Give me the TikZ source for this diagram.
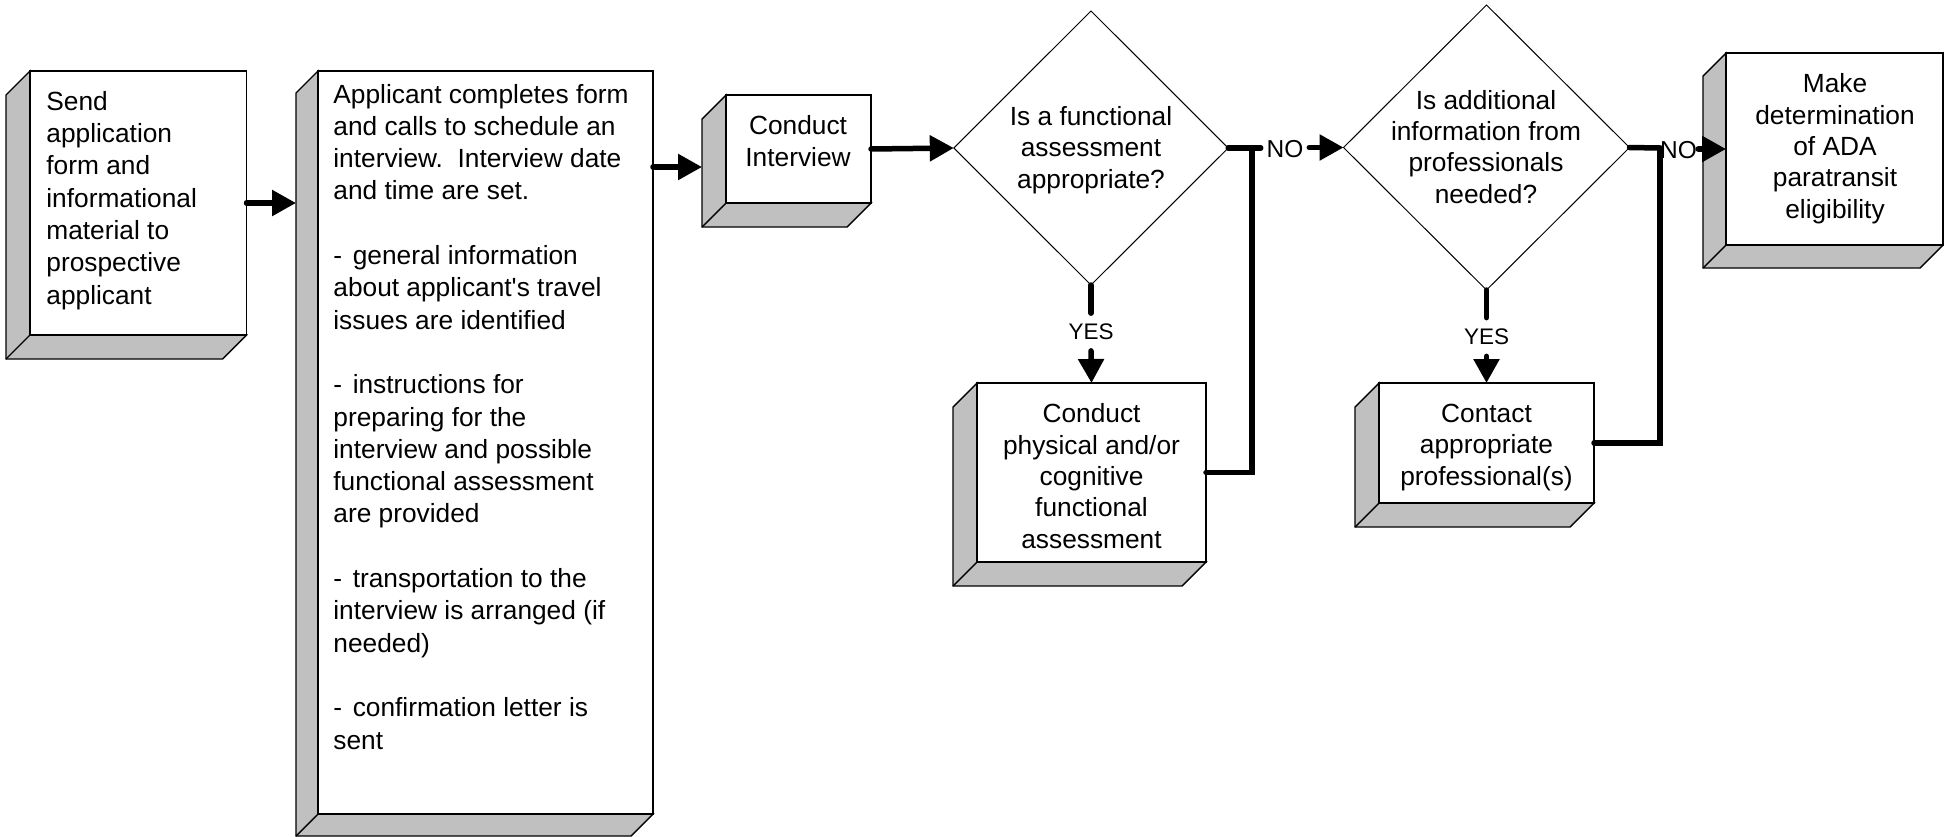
\documentclass[tikz,border=0pt]{standalone}
\usepackage{fontspec}
\setmainfont{Liberation Sans}
\usetikzlibrary{arrows.meta,shapes.geometric,fit}
\definecolor{sidegray}{HTML}{C0C0C0}
\newcommand\bevelbox[6]{%
  \filldraw[side] (#2,#3) -- ({#2-#6},{#3+#6}) -- ({#2-#6},{#5+#6}) -- ({#4-#6},{#5+#6}) -- (#4,#5) -- (#2,#5) -- cycle;
  \draw[side] (#2,#5) -- ({#2-#6},{#5+#6});
  \coordinate (#1-nw) at (#2,#3);
  \coordinate (#1-se) at (#4,#5);
  \node[face, fit=(#1-nw)(#1-se)] (#1) {};
  \coordinate (#1-L) at ({#2-#6},{(#3+#5)/2});
}
\newcommand\dashgap{-\hspace{5.3pt}}
\begin{document}
\frenchspacing
\begin{tikzpicture}[x=0.5pt,y=-0.5pt,
  side/.style={fill=sidegray, draw=black, line width=0.7pt, line join=miter},
  face/.style={draw=black, line width=0.7pt, fill=white, inner sep=0pt, outer sep=0pt},
  dia/.style={diamond, draw=black, line width=0.5pt, inner sep=0pt, outer sep=0pt},
  conn/.style={line width=2.75pt, line cap=round},
  arr/.style={conn, -{Triangle[length=12pt,width=12.5pt]}},
  txtL/.style={font=\fontsize{13.15pt}{16.15pt}\selectfont, align=left, inner sep=0pt},
  txtC/.style={font=\fontsize{13.15pt}{15.65pt}\selectfont, align=center, inner sep=0pt},
  notxt/.style={font=\fontsize{12.25pt}{14pt}\selectfont, inner ysep=0pt},
  yestxt/.style={font=\fontsize{11.25pt}{13pt}\selectfont, inner xsep=0pt}]
\useasboundingbox (0,0) rectangle (1944,836);

% boxes
\bevelbox{b1}{30}{71}{246.5}{335}{24}
\bevelbox{b2}{318}{71}{653}{814}{22}
\bevelbox{b3}{726}{95}{871}{203}{24}
\bevelbox{b4}{1726}{53}{1943}{245}{23}
\bevelbox{b5}{977}{383}{1206}{562}{24}
\bevelbox{b6}{1379}{383}{1594}{503}{24}

% decisions
\node[dia, minimum width=137.2pt, minimum height=137pt] (d1) at (1091,148) {};
\node[dia, minimum width=143pt, minimum height=142.5pt] (d2) at (1486.5,147.5) {};

% texts (base anchor = baseline of the last line)
\node[txtL, anchor=base west] (t1) at (46,304) {Send\\application\\form and\\informational\\material to\\prospective\\applicant};
\node[txtL, anchor=base west] (t2) at (333,749) {Applicant completes form\\and calls to schedule an\\interview.\ \ Interview date\\and time are set.\\\mbox{}\\\dashgap general information\\about applicant\textquotesingle s travel\\issues are identified\\\mbox{}\\\dashgap instructions for\\preparing for the\\interview and possible\\functional assessment\\are provided\\\mbox{}\\\dashgap transportation to the\\interview is arranged (if\\needed)\\\mbox{}\\\dashgap confirmation letter is\\sent};
\node[txtC, anchor=base] (t3) at (798,166) {Conduct\\Interview};
\node[txtC, anchor=base] (td1) at (1091,188) {Is a functional\\assessment\\appropriate?};
\node[txtC, anchor=base] (td2) at (1486,203) {Is additional\\information from\\professionals\\needed?};
\node[txtC, anchor=base] (t4) at (1835,218) {Make\\determination\\of ADA\\paratransit\\eligibility};
\node[txtC, anchor=base] (t5) at (1091.5,548) {Conduct\\physical and/or\\cognitive\\functional\\assessment};
\node[txtC, anchor=base] (t6) at (1486.5,485) {Contact\\appropriate\\professional(s)};

% labels
\node[notxt, inner xsep=2.75pt, anchor=base] (no1) at (1285,157) {NO};
\node[notxt, inner xsep=0.5pt, anchor=base] (no2) at (1678.5,158) {NO};
\node[yestxt, inner ysep=5.25pt] (y1) at (1091,332) {YES};
\node[yestxt, inner ysep=5.5pt] (y2) at (1486.5,337) {YES};
\coordinate (j1) at (1252,148);
\coordinate (j2) at (1660,148);
\coordinate (a2) at ([yshift=-48pt]b2.north east);

% connectors
\draw[arr] (b1.east) -- (b1.east -| b2-L);
\draw[arr] (a2) -- (a2 -| b3-L);
\draw[arr] (b3.east) -- (d1.west);
\draw[conn] (d1.east) -- (no1.west |- d1.east);
\draw[conn] (b5.east) -| (j1);
\draw[arr] (no1.east |- d2.west) -- (d2.west);
\draw[conn] (d1.south) -- (y1.north);
\draw[arr] (y1.south) -- (b5.north);
\draw[conn] (d2.east) -- (j2);
\draw[conn] (b6.east) -| (j2);
\draw[arr] (no2.east |- b4.west) -- (b4.west);
\draw[conn] (d2.south) -- (y2.north);
\draw[arr] (y2.south) -- (b6.north);
\end{tikzpicture}
\end{document}
